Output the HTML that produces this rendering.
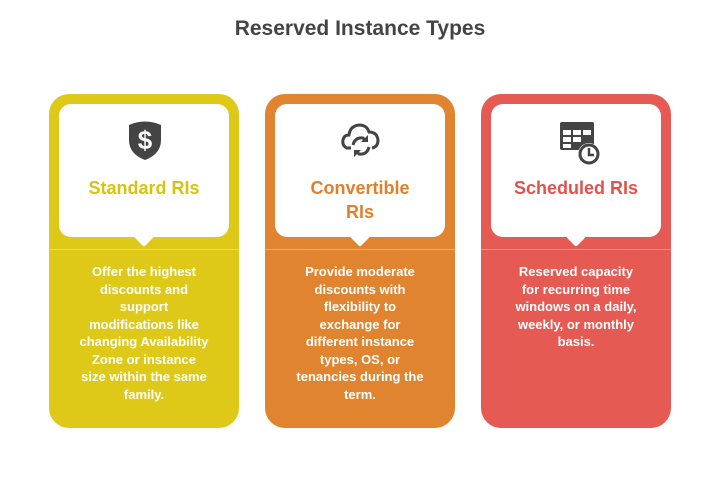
<!DOCTYPE html>
<html><head><meta charset="utf-8"><style>
body{margin:0;width:720px;height:478px;background:#fff;font-family:"Liberation Sans",sans-serif;position:relative;overflow:hidden}
h1{position:absolute;top:17px;left:0;width:720px;text-align:center;margin:0;font-size:21px;color:#444;font-weight:bold}
.card{position:absolute;top:94px;width:190px;height:334px;border-radius:20px}
.inner{position:absolute;left:10px;top:10px;width:170px;height:133px;background:#fff;border-radius:12px}
.ptr{position:absolute;left:78px;top:126px;width:14px;height:14px;background:#fff;transform:rotate(45deg);border-radius:2px}
.sep{position:absolute;left:0;top:155px;width:190px;height:1px;background:rgba(255,255,255,.35)}
.t{position:absolute;left:0;width:170px;text-align:center;font-weight:bold;font-size:18px;line-height:24px}
.b{position:absolute;left:29px;top:169px;width:132px;text-align:center;color:#fff;font-size:13px;line-height:17.5px;font-weight:bold}
.ic{position:absolute;left:66px;top:14px}
</style></head><body>
<h1>Reserved Instance Types</h1>

<div class="card" style="left:49px;background:#dfc918">
<div class="sep"></div>
<div class="inner"><div class="ptr"></div>
<svg class="ic" width="40" height="44" viewBox="0 0 40 44"><path d="M4 7 Q20 0 36 7 V22 Q36 36 20 42 Q4 36 4 22Z" fill="#444"/><text x="20" y="31" text-anchor="middle" font-size="26" font-weight="bold" fill="#fff" font-family="Liberation Sans">$</text></svg>
<div class="t" style="top:72px;color:#d9c210">Standard RIs</div></div>
<div class="b">Offer the highest discounts and support modifications like changing Availability Zone or instance size within the same family.</div>
</div>

<div class="card" style="left:265px;background:#e08430">
<div class="sep"></div>
<div class="inner"><div class="ptr"></div>
<svg class="ic" width="40" height="44" viewBox="0 0 40 44"><path d="M10 30 H6 Q1 28 2 22 Q3 17 8 17 Q9 8 18 7 Q26 7 28 14 Q36 14 37 22 Q37 29 31 30" fill="none" stroke="#444" stroke-width="3"/><path d="M12 27 Q14 19 22 20 L24 22" fill="none" stroke="#444" stroke-width="3"/><path d="M27 17 V24 H20Z" fill="#444"/><path d="M28 29 Q26 37 18 36 L16 34" fill="none" stroke="#444" stroke-width="3"/><path d="M13 39 V32 H20Z" fill="#444"/></svg>
<div class="t" style="top:72px;color:#e0802c">Convertible<br>RIs</div></div>
<div class="b">Provide moderate discounts with flexibility to exchange for different instance types, OS, or tenancies during the term.</div>
</div>

<div class="card" style="left:481px;background:#e55a52">
<div class="sep"></div>
<div class="inner"><div class="ptr"></div>
<svg class="ic" width="44" height="50" viewBox="0 0 44 50"><rect x="3" y="4" width="34" height="28" rx="2" fill="#444"/><g fill="#fff"><rect x="6" y="12" width="8" height="5"/><rect x="16" y="12" width="8" height="5"/><rect x="26" y="12" width="8" height="5"/><rect x="6" y="19" width="8" height="5"/><rect x="16" y="19" width="8" height="5"/><rect x="6" y="26" width="8" height="4"/></g><circle cx="32" cy="36" r="11" fill="#fff"/><circle cx="32" cy="36" r="9" fill="none" stroke="#444" stroke-width="3"/><path d="M32 30 V37 H37" fill="none" stroke="#444" stroke-width="2.5"/></svg>
<div class="t" style="top:72px;color:#e2524b">Scheduled RIs</div></div>
<div class="b">Reserved capacity for recurring time windows on a daily, weekly, or monthly basis.</div>
</div>
</body></html>
